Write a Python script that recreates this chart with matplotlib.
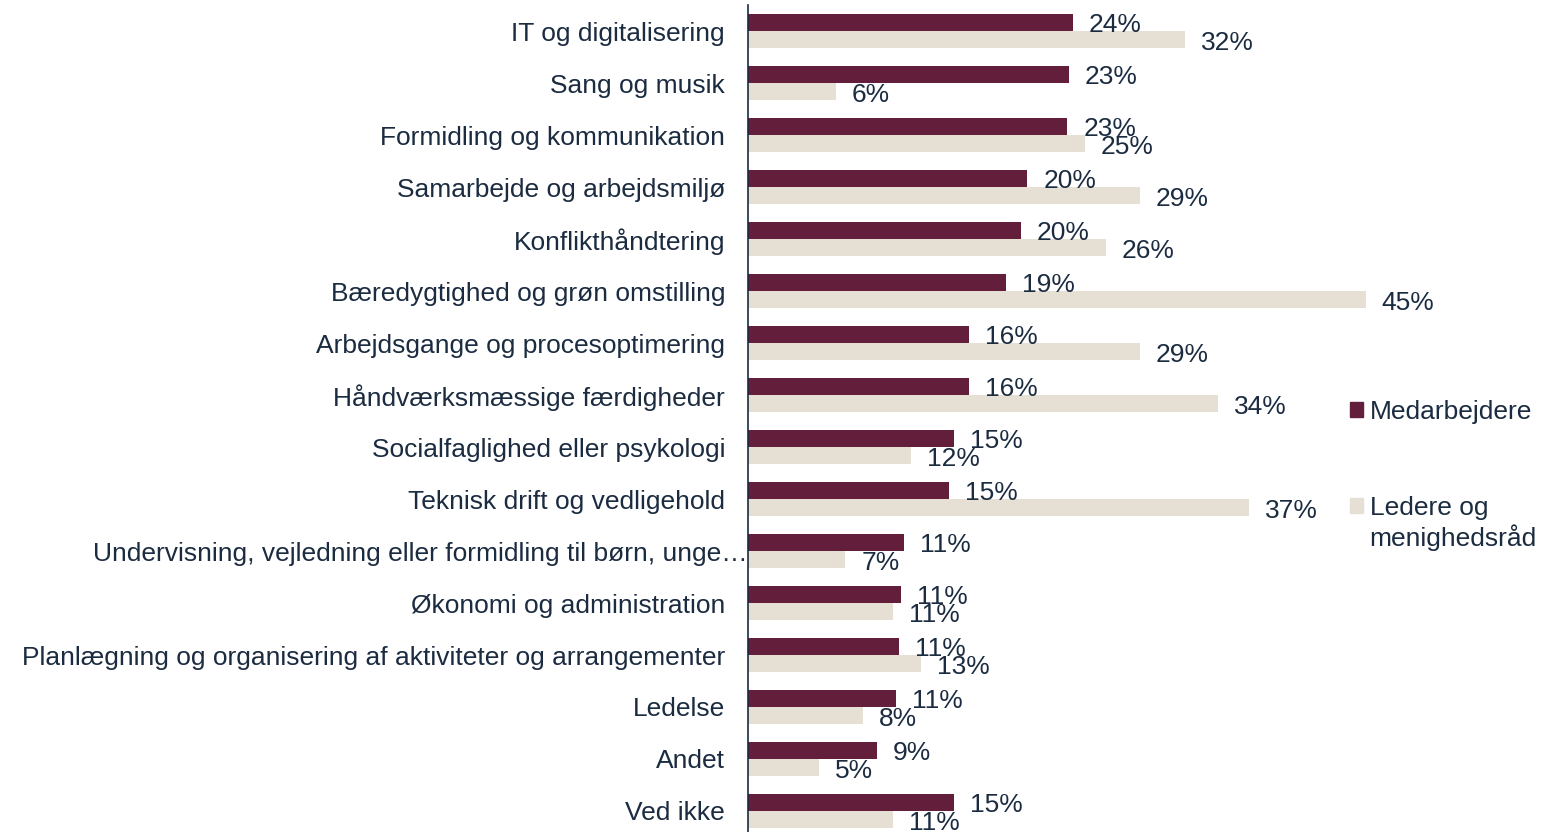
import numpy as np
import matplotlib
matplotlib.use("Agg")
import matplotlib.pyplot as plt
from matplotlib.transforms import ScaledTranslation
from matplotlib.patches import Patch

# data (percent)
categories = [
    "IT og digitalisering",
    "Sang og musik",
    "Formidling og kommunikation",
    "Samarbejde og arbejdsmiljø",
    "Konflikthåndtering",
    "Bæredygtighed og grøn omstilling",
    "Arbejdsgange og procesoptimering",
    "Håndværksmæssige færdigheder",
    "Socialfaglighed eller psykologi",
    "Teknisk drift og vedligehold",
    "Undervisning, vejledning eller formidling til børn, unge…",
    "Økonomi og administration",
    "Planlægning og organisering af aktiviteter og arrangementer",
    "Ledelse",
    "Andet",
    "Ved ikke",
]
medarbejdere = [23.7, 23.4, 23.3, 20.4, 19.9, 18.8, 16.1, 16.1, 15.0, 14.7, 11.4, 11.2, 11.0, 10.8, 9.4, 15.0]
ledere = [31.9, 6.4, 24.6, 28.6, 26.1, 45.1, 28.6, 34.3, 11.9, 36.6, 7.1, 10.6, 12.6, 8.4, 5.2, 10.6]
series_names = ["Medarbejdere", "Ledere og", "menighedsråd"]

maroon = "#631e3c"
beige = "#e6dfd3"
text_col = "#1b2b40"

plt.rcParams["font.family"] = ["Liberation Sans", "DejaVu Sans"]

fig = plt.figure(figsize=(15.6, 8.32), dpi=100)
ax = fig.add_axes([748 / 1560, -5 / 832, 685 / 1560, 832 / 832])

y = np.arange(len(categories))
h = 0.327
ax.barh(y - h / 2, medarbejdere, height=h, color=maroon)
ax.barh(y + h / 2, ledere, height=h, color=beige)

for yi, m, l in zip(y, medarbejdere, ledere):
    ax.annotate(f"{round(m)}%", (m, yi - h / 2), xytext=(16, -3), textcoords="offset pixels",
                va="center", ha="left", fontsize=19, color=text_col)
    ax.annotate(f"{round(l)}%", (l, yi + h / 2), xytext=(16, -3), textcoords="offset pixels",
                va="center", ha="left", fontsize=19, color=text_col)

ax.set_xlim(0, 50)
ax.set_ylim(len(categories) - 0.5, -0.5)
ax.set_yticks(y)
ax.set_yticklabels(categories, fontsize=19, color=text_col)
ax.tick_params(axis="y", length=0, pad=16.5)
ax.set_xticks([])
for s in ["top", "right", "bottom"]:
    ax.spines[s].set_visible(False)
ax.spines["left"].set_color(text_col)
ax.spines["left"].set_linewidth(1.2)

# the long truncated label runs up to the axis line
lab = ax.get_yticklabels()[10]
lab.set_transform(lab.get_transform() + ScaledTranslation(23 / 100, 0, fig.dpi_scale_trans))

handles = [Patch(color=maroon), Patch(color=beige)]
leg = fig.legend(handles, series_names[:2], loc="upper left", bbox_to_anchor=(1326 / 1560, 1 - 376 / 832),
                 frameon=False, fontsize=19, labelcolor=text_col, handlelength=0.5, handleheight=0.5,
                 handletextpad=0.25, labelspacing=2.75)

# second line of the wrapped legend label, under "Ledere og"
fig.canvas.draw()
bb = leg.get_texts()[1].get_window_extent()
fig.text(bb.x0 / 1560, (bb.y0 - 31) / 832, series_names[2], fontsize=19, color=text_col,
         ha="left", va="bottom")

fig.savefig("out.png", dpi=100)
